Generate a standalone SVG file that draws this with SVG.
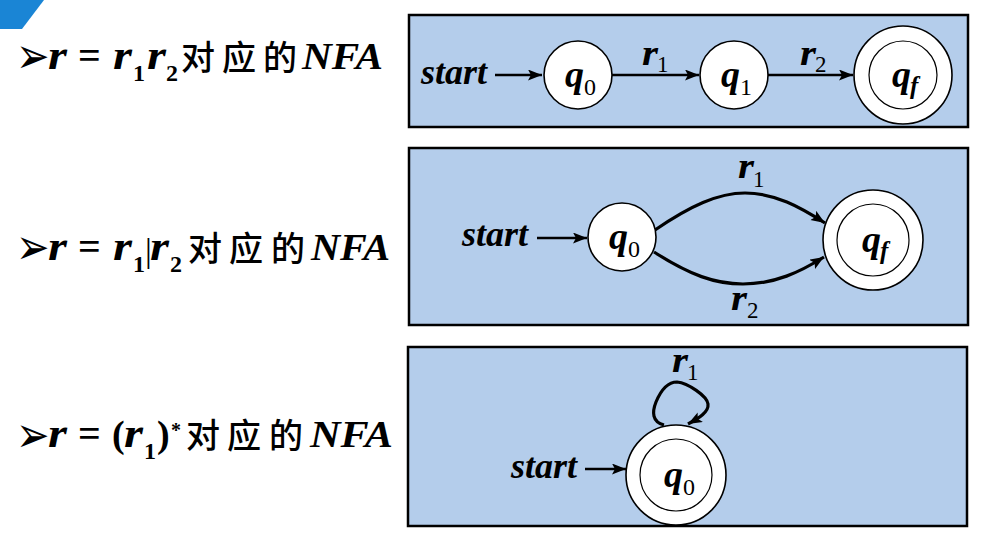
<svg xmlns="http://www.w3.org/2000/svg" width="983" height="534" viewBox="0 0 983 534">
<defs>
<marker id="ah" markerUnits="userSpaceOnUse" markerWidth="15" markerHeight="12" refX="14" refY="5.5" orient="auto">
<path d="M0,0 L14,5.5 L0,11 L3,5.5 z" fill="#000"/>
</marker>
<style>
.box{fill:#b4cdeb;stroke:#000;stroke-width:2.5}
.st{fill:#fff;stroke:#000;stroke-width:1.6}
.in{fill:none;stroke:#000;stroke-width:1.2}
.ln{fill:none;stroke:#000;stroke-width:2.5}
.cv{fill:none;stroke:#000;stroke-width:3.2}
text{font-family:'Liberation Serif',serif}
.bi{font-weight:bold;font-style:italic;fill:#000}
.ss{font-weight:normal;font-style:normal;fill:#000}
.sb{font-weight:bold;font-style:normal;fill:#000}
.cjk{font-family:'Noto Sans CJK SC',sans-serif;font-size:34px;font-weight:500;fill:#000}
.bul{font-family:'DejaVu Sans',sans-serif;font-size:40px;fill:#000}
</style>
</defs>
<rect width="983" height="534" fill="#fff"/>
<polygon points="0,0 44,0 22,29 0,29" fill="#1a85d5"/>

<g id="title1">
<text class="bul" transform="translate(16,73) scale(1,1.25)">➢</text>
<text class="bi" x="48" y="69" font-size="40" textLength="19" lengthAdjust="spacingAndGlyphs">r</text>
<text class="sb" x="78" y="69" font-size="40">=</text>
<text class="bi" x="113" y="69" font-size="40" textLength="19" lengthAdjust="spacingAndGlyphs">r</text>
<text class="sb" x="133" y="81" font-size="24">1</text>
<text class="bi" x="147" y="69" font-size="40" textLength="19" lengthAdjust="spacingAndGlyphs">r</text>
<text class="sb" x="166" y="81" font-size="24">2</text>
<text class="cjk" x="181" y="70">对</text>
<text class="cjk" x="222" y="70">应</text>
<text class="cjk" x="263" y="70">的</text>
<text class="bi" x="302" y="69" font-size="37" textLength="81" lengthAdjust="spacingAndGlyphs">NFA</text>
</g>
<g id="title2">
<text class="bul" transform="translate(16,264) scale(1,1.25)">➢</text>
<text class="bi" x="48" y="260" font-size="40" textLength="19" lengthAdjust="spacingAndGlyphs">r</text>
<text class="sb" x="78" y="260" font-size="40">=</text>
<text class="bi" x="113" y="260" font-size="40" textLength="19" lengthAdjust="spacingAndGlyphs">r</text>
<text class="sb" x="133" y="272" font-size="24">1</text>
<text class="ss" x="145" y="262" font-size="34">|</text>
<text class="bi" x="150" y="260" font-size="40" textLength="19" lengthAdjust="spacingAndGlyphs">r</text>
<text class="sb" x="170" y="272" font-size="24">2</text>
<text class="cjk" x="188" y="261">对</text>
<text class="cjk" x="229" y="261">应</text>
<text class="cjk" x="271" y="261">的</text>
<text class="bi" x="311" y="260" font-size="37" textLength="79" lengthAdjust="spacingAndGlyphs">NFA</text>
</g>
<g id="title3">
<text class="bul" transform="translate(16,452) scale(1,1.25)">➢</text>
<text class="bi" x="48" y="447" font-size="40" textLength="19" lengthAdjust="spacingAndGlyphs">r</text>
<text class="sb" x="78" y="447" font-size="40">=</text>
<text class="sb" x="112" y="447" font-size="38">(</text>
<text class="bi" x="124" y="447" font-size="40" textLength="19" lengthAdjust="spacingAndGlyphs">r</text>
<text class="sb" x="144" y="459" font-size="24">1</text>
<text class="sb" x="157" y="447" font-size="38">)</text>
<text class="sb" x="171" y="437" font-size="20">*</text>
<text class="cjk" x="186" y="448">对</text>
<text class="cjk" x="227" y="448">应</text>
<text class="cjk" x="269" y="448">的</text>
<text class="bi" x="310" y="447" font-size="37" textLength="83" lengthAdjust="spacingAndGlyphs">NFA</text>
</g>

<g id="panel1">
<rect class="box" x="409" y="15" width="559" height="112"/>
<text class="bi" x="421" y="84" font-size="36">start</text>
</g>
<g id="panel2">
<rect class="box" x="409" y="148" width="559" height="177"/>
<text class="bi" x="462" y="246" font-size="36">start</text>
</g>
<g id="panel3">
<rect class="box" x="408" y="347" width="559" height="179"/>
<text class="bi" x="511" y="478" font-size="36">start</text>
</g>

<g id="connectors">
<line class="ln" x1="495" y1="75" x2="542" y2="75" marker-end="url(#ah)"/>
<line class="ln" x1="612" y1="75" x2="699" y2="75" marker-end="url(#ah)"/>
<line class="ln" x1="768" y1="75" x2="853" y2="75" marker-end="url(#ah)"/>
<line class="ln" x1="537" y1="238" x2="587" y2="238" marker-end="url(#ah)"/>
<path class="cv" d="M655,230 C690,206 718,193 745,193 C775,193 800,207 825,223" marker-end="url(#ah)"/>
<path class="cv" d="M654,252 C690,275 715,284 743,284 C775,284 800,272 824,257" marker-end="url(#ah)"/>
<line class="ln" x1="585" y1="469" x2="626" y2="469" marker-end="url(#ah)"/>
<path class="cv" d="M664,425 C652,422 652,412 656,402 C661,390 668,382 677,382 C688,383 707,396 708,404 C709,412 699,418 688,424" marker-end="url(#ah)"/>
<text class="bi" x="642" y="65" font-size="36" textLength="16" lengthAdjust="spacingAndGlyphs">r</text>
<text class="ss" x="657" y="72" font-size="23">1</text>
<text class="bi" x="800" y="65" font-size="36" textLength="16" lengthAdjust="spacingAndGlyphs">r</text>
<text class="ss" x="815" y="72" font-size="23">2</text>
<text class="bi" x="738" y="178" font-size="36" textLength="16" lengthAdjust="spacingAndGlyphs">r</text>
<text class="ss" x="753" y="187" font-size="23">1</text>
<text class="bi" x="731" y="310" font-size="36" textLength="16" lengthAdjust="spacingAndGlyphs">r</text>
<text class="ss" x="747" y="318" font-size="23">2</text>
<text class="bi" x="672" y="372" font-size="36" textLength="16" lengthAdjust="spacingAndGlyphs">r</text>
<text class="ss" x="687" y="380" font-size="23">1</text>
</g>

<g id="n1_q0">
<circle class="st" cx="578" cy="75" r="34"/>
<text class="bi" x="565" y="87" font-size="38">q</text>
<text class="ss" x="584" y="95" font-size="24">0</text>
</g>
<g id="n1_q1">
<circle class="st" cx="734" cy="75" r="34"/>
<text class="bi" x="721" y="87" font-size="38">q</text>
<text class="ss" x="740" y="95" font-size="24">1</text>
</g>
<g id="n1_qf">
<circle class="st" cx="903" cy="75" r="49"/>
<circle class="in" cx="903" cy="75" r="34"/>
<text class="bi" x="892" y="87" font-size="38">q</text>
<text class="bi" x="910" y="94" font-size="25">f</text>
</g>
<g id="n2_q0">
<circle class="st" cx="622" cy="237" r="34"/>
<text class="bi" x="609" y="249" font-size="38">q</text>
<text class="ss" x="628" y="257" font-size="24">0</text>
</g>
<g id="n2_qf">
<circle class="st" cx="873" cy="240" r="50"/>
<circle class="in" cx="873" cy="240" r="36"/>
<text class="bi" x="862" y="252" font-size="38">q</text>
<text class="bi" x="880" y="259" font-size="25">f</text>
</g>
<g id="n3_q0">
<circle class="st" cx="676" cy="475" r="50"/>
<circle class="in" cx="676" cy="475" r="36"/>
<text class="bi" x="664" y="487" font-size="38">q</text>
<text class="ss" x="683" y="495" font-size="24">0</text>
</g>
</svg>
